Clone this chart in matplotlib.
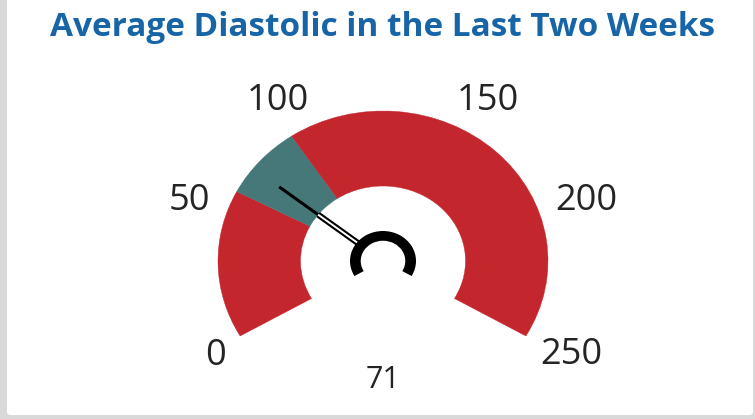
import numpy as np
import matplotlib
matplotlib.use("Agg")
import matplotlib.pyplot as plt
from matplotlib.patches import Wedge, FancyBboxPatch

# gauge data
g_min, g_max = 0, 250
ticks = [0, 50, 100, 150, 200, 250]
band_lo, band_hi = 60, 90      # normal range (teal)
value = 71
title = "Average Diastolic in the Last Two Weeks"

red = "#c4262e"
teal = "#467879"
txt = "#252423"

# gauge sweep: 240 degrees, open at the bottom
a_start, a_sweep = 210.0, 240.0

def ang(v):
    return a_start - (v - g_min) / (g_max - g_min) * a_sweep

W, H = 755, 419
fig = plt.figure(figsize=(W / 100, H / 100), dpi=100)
fig.patch.set_facecolor("#d9d9d9")
card = FancyBboxPatch((7 / W, 4 / H), (W - 9) / W, (H + 20) / H,
                      boxstyle="round,pad=0,rounding_size=0.006",
                      transform=fig.transFigure, facecolor="white",
                      edgecolor="none", zorder=-5)
fig.patches.append(card)

# axes in which one unit = gauge radius (slightly elliptical on screen)
cx, cy, rx, ry = 383, 261, 165, 150
ax = fig.add_axes([0, 0, 1, 1])
ax.set_xlim(-cx / rx, (W - cx) / rx)
ax.set_ylim(-(H - cy) / ry, cy / ry)
ax.set_aspect("auto")
ax.axis("off")
ax.patch.set_alpha(0)
ax.set_zorder(2)

# bands
segs = [(g_min, band_lo, red), (band_lo, band_hi, teal), (band_hi, g_max, red)]
for lo, hi, c in segs:
    ax.add_patch(Wedge((0, 0), 1.0, ang(hi), ang(lo), width=0.5,
                       facecolor=c, edgecolor=c, lw=0.3))

# tick labels
for t in ticks:
    a = np.deg2rad(ang(t))
    x, y = 1.1 * np.cos(a), 1.1 * np.sin(a)
    ha = "right" if np.cos(a) < -0.1 else ("left" if np.cos(a) > 0.1 else "center")
    if np.sin(a) > 0:
        va = "baseline"
    else:
        va = "top"
        y += 0.04
    ax.text(x, y, str(t), ha=ha, va=va, fontsize=26, color=txt,
            family="Open Sans")

# needle
a = np.deg2rad(ang(value))
ca, sa = np.cos(a), np.sin(a)
ax.plot([0.5 * ca, 0.8 * ca], [0.5 * sa, 0.8 * sa], color="black", lw=2.2,
        solid_capstyle="butt", zorder=5)
ax.plot([0.17 * ca, 0.5 * ca], [0.17 * sa, 0.5 * sa], color="black", lw=4.4,
        solid_capstyle="butt", zorder=5)
ax.plot([0.17 * ca, 0.5 * ca], [0.17 * sa, 0.5 * sa], color="white", lw=1.4,
        solid_capstyle="butt", zorder=6)

# hub ring
ax.add_patch(Wedge((0, 0), 0.2, ang(g_max), ang(g_min), width=0.065,
                   facecolor="black", edgecolor="none", zorder=7))

# value
ax.text(0, -0.79, str(value), ha="center", va="center", fontsize=22,
        color=txt, family="Open Sans")

fig.text(383 / W, 1 - 27 / H, title, ha="center", va="center",
         fontsize=24, fontweight="bold", color="#1765a6", family="Open Sans",
         zorder=3)

fig.savefig("out.png", dpi=100, facecolor=fig.get_facecolor())
